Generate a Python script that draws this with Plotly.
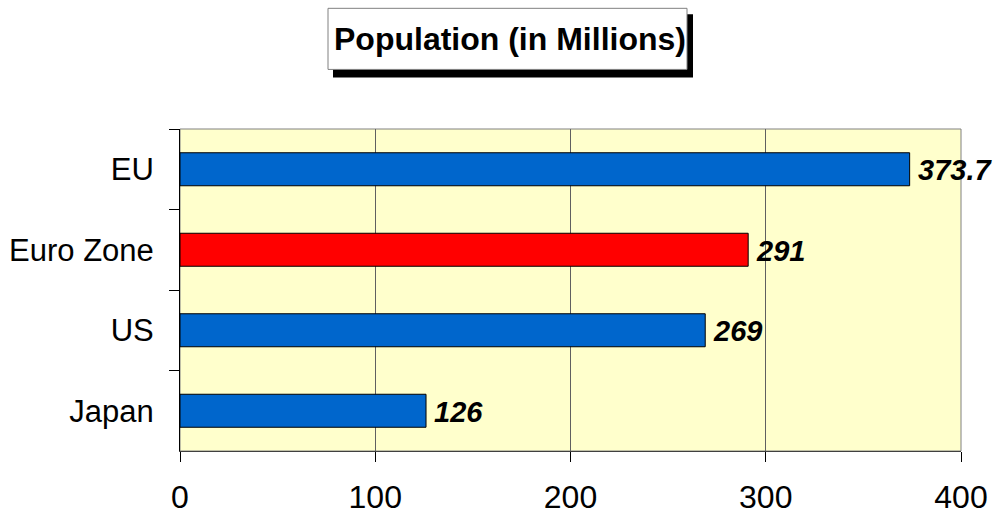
import plotly.graph_objects as go

categories = ["EU", "Euro Zone", "US", "Japan"]
values = [373.7, 291, 269, 126]
labels = ["373.7", "291", "269", "126"]
bar_colors = ["#0066CC", "#FF0000", "#0066CC", "#0066CC"]
x_ticks = [0, 100, 200, 300, 400]

FONT = "Arial, Liberation Sans, sans-serif"

fig = go.Figure()
fig.add_trace(go.Bar(
    y=categories, x=values, orientation="h",
    marker=dict(color=bar_colors, line=dict(color="#000000", width=1)),
    hoverinfo="skip",
))

for c, v, t in zip(categories, values, labels):
    fig.add_annotation(x=v, y=c, xref="x", yref="y", text="<b><i>%s</i></b>" % t,
                       showarrow=False, xanchor="left", yanchor="middle", xshift=6, yshift=-1,
                       font=dict(family=FONT, size=29, color="#000000"))

# title box with shadow
fig.add_shape(type="rect", xref="paper", yref="paper",
              x0=(333-180)/781, x1=(693-180)/781, y0=(451-78)/321.5, y1=(451-15)/321.5,
              fillcolor="#000000", line=dict(width=0), layer="above")
fig.add_shape(type="rect", xref="paper", yref="paper",
              x0=(328-180)/781, x1=(687-180)/781, y0=(451-70)/321.5, y1=(451-9)/321.5,
              fillcolor="#FFFFFF", line=dict(color="#808080", width=1), layer="above")
fig.add_annotation(xref="paper", yref="paper", x=(510-180)/781, y=(451-40)/321.5,
                   text="<b>Population (in Millions)</b>", showarrow=False,
                   xanchor="center", yanchor="middle",
                   font=dict(family=FONT, size=32, color="#000000"))

# plot border
fig.add_shape(type="rect", xref="paper", yref="paper", x0=0, x1=1, y0=0, y1=1,
              line=dict(color="#808080", width=1), layer="below")

fig.update_layout(
    width=997, height=516,
    margin=dict(l=180, r=36, t=129, b=65),
    paper_bgcolor="#FFFFFF", plot_bgcolor="#FFFFCC",
    bargap=0.59, showlegend=False,
    font=dict(family=FONT, color="#000000"),
)
fig.update_xaxes(
    range=[0, 400], tickvals=x_ticks, ticktext=[str(v) for v in x_ticks],
    showgrid=True, gridcolor="#606060", gridwidth=1,
    ticks="outside", ticklen=10, tickcolor="#000000", tickwidth=1,
    showline=True, linecolor="#404040", linewidth=1,
    tickfont=dict(family=FONT, size=32, color="#000000"),
    ticklabelstandoff=8, zeroline=False, fixedrange=True, automargin=False,
)
fig.update_yaxes(
    categoryorder="array", categoryarray=categories, autorange="reversed",
    ticks="outside", tickson="boundaries", ticklen=10, tickcolor="#000000", tickwidth=1,
    showline=True, linecolor="#000000", linewidth=1, showgrid=False,
    tickfont=dict(family=FONT, size=31, color="#000000"),
    ticklabelstandoff=19, fixedrange=True, automargin=False,
)

fig.write_html("out.html", config={"displayModeBar": False},
               post_script="document.body.style.margin='0';document.body.style.overflow='hidden';")
